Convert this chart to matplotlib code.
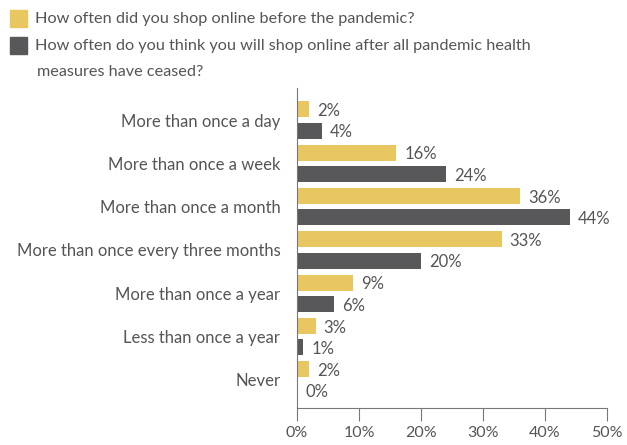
import matplotlib.pyplot as plt
from matplotlib.patches import Rectangle

# categories and values
categories = ['More than once a day', 'More than once a week', 'More than once a month',
              'More than once every three months', 'More than once a year',
              'Less than once a year', 'Never']
before = [2, 16, 36, 33, 9, 3, 2]
after = [4, 24, 44, 20, 6, 1, 0]
legend_labels = ['How often did you shop online before the pandemic?',
                 'How often do you think you will shop online after all pandemic health',
                 'measures have ceased?']
xticks = [0, 10, 20, 30, 40, 50]

yellow = '#E8C660'
dark = '#58585A'
text_col = '#555555'

plt.rcParams['font.family'] = ['Lato', 'DejaVu Sans']

fig = plt.figure(figsize=(6.27, 4.45), dpi=100)
ax = fig.add_axes([297 / 627, 1 - 408 / 445, 310 / 627, 320 / 445])

pos = list(range(len(categories)))
off = 0.245
h = 0.37
ax.barh([p - off for p in pos], before, height=h, color=yellow)
ax.barh([p + off for p in pos], after, height=h, color=dark)

for p, v in zip(pos, before):
    ax.text(v + 1.3, p - off + 0.04, f'{v}%', va='center', ha='left', fontsize=12, color=text_col)
for p, v in zip(pos, after):
    ax.text(v + 1.3, p + off + 0.04, f'{v}%', va='center', ha='left', fontsize=12, color=text_col)

ax.set_ylim(6.65, -0.74)
ax.set_xlim(0, 50)
ax.set_yticks(pos)
ax.set_yticklabels(categories, fontsize=12, color=text_col)
ax.set_xticks(xticks)
ax.set_xticklabels([f'{t}%' for t in xticks], fontsize=11.5, color=text_col)
ax.tick_params(axis='y', length=0, pad=12)
ax.tick_params(axis='x', length=9, color='#777777', pad=4)
ax.spines['top'].set_visible(False)
ax.spines['right'].set_visible(False)
ax.spines['left'].set_color('#777777')
ax.spines['bottom'].set_color('#777777')

# legend drawn by hand
fig.patches.append(Rectangle((10 / 627, 1 - 27 / 445), 17 / 627, 17 / 445,
                             transform=fig.transFigure, color=yellow))
fig.patches.append(Rectangle((10 / 627, 1 - 54 / 445), 17 / 627, 17 / 445,
                             transform=fig.transFigure, color=dark))
fig.text(35 / 627, 1 - 18.5 / 445, legend_labels[0], va='center', ha='left', fontsize=11.7, color=text_col)
fig.text(35 / 627, 1 - 46 / 445, legend_labels[1], va='center', ha='left', fontsize=11.7, color=text_col)
fig.text(37 / 627, 1 - 72 / 445, legend_labels[2], va='center', ha='left', fontsize=11.7, color=text_col)

fig.savefig('out.png', dpi=100)
